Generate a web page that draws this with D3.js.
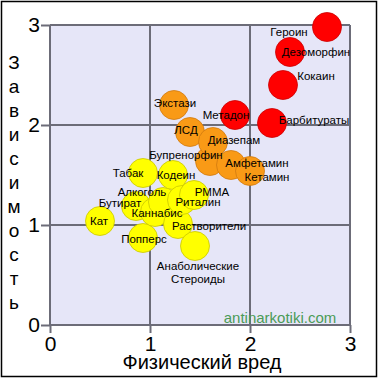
<!DOCTYPE html>
<html>
<head>
<meta charset="utf-8">
<script src="https://cdn.jsdelivr.net/npm/d3@7"></script>
<style>
  body { margin: 0; background: #fff; }
  svg { display: block; font-family: "Liberation Sans", Arial, sans-serif; }
</style>
</head>
<body>
<div id="chart"></div>
<script>
// data
const names = ["Кат", "Попперс", "Бутират", "Табак", "Каннабис", "Алкоголь", "Кодеин",
  "Растворители", "Риталин", "РММА", "Анаболические Стероиды",
  "Экстази", "ЛСД", "Бупренорфин", "Диазепам", "Амфетамин", "Кетамин",
  "Метадон", "Барбитураты", "Кокаин", "Дезоморфин", "Героин"];
const harm = [0.50, 0.93, 0.86, 0.93, 1.05, 1.13, 1.23,
  1.28, 1.32, 1.44, 1.45,
  1.24, 1.40, 1.60, 1.63, 1.81, 2.00,
  1.85, 2.22, 2.33, 2.40, 2.77];
const dependence = [1.04, 0.87, 1.19, 1.52, 1.13, 1.23, 1.50,
  1.01, 1.25, 1.30, 0.79,
  2.20, 1.93, 1.64, 1.83, 1.60, 1.54,
  2.10, 2.02, 2.40, 2.73, 2.98];
const group = ["low", "low", "low", "low", "low", "low", "low",
  "low", "low", "low", "low",
  "mid", "mid", "mid", "mid", "mid", "mid",
  "high", "high", "high", "high", "high"];
const ticks = [0, 1, 2, 3];

// label placement relative to circle centre (px)
const labelOffset = {
  "Кат": [-1, 0], "Попперс": [1, 1], "Бутират": [-16, -3], "Табак": [-15, 0],
  "Каннабис": [2, 1], "Алкоголь": [-21, -10], "Кодеин": [3, 0],
  "Растворители": [31, 2], "Риталин": [16, 2], "РММА": [18, -3],
  "Анаболические Стероиды": [3, 20],
  "Экстази": [1, -2], "ЛСД": [-4, -2], "Бупренорфин": [-24, -6], "Диазепам": [21, -2],
  "Амфетамин": [26, -2], "Кетамин": [17, 6], "Метадон": [-9, 0],
  "Барбитураты": [42, -3], "Кокаин": [33, -9], "Дезоморфин": [26, 0], "Героин": [-38, 5]
};

const fill = { low: "#ffff00", mid: "#f99a16", high: "#ff0000" };
const edge = { low: "#c9c700", mid: "#d07a10", high: "#cc0000" };

const width = 380, height = 380;
const svg = d3.select("#chart").append("svg")
  .attr("width", width).attr("height", height);

const x = d3.scaleLinear().domain([0, 3]).range([50, 350]);
const y = d3.scaleLinear().domain([0, 3]).range([325, 25]);

// outer frame
svg.append("rect")
  .attr("x", 1.5).attr("y", 1.5).attr("width", 375).attr("height", 375)
  .attr("fill", "none").attr("stroke", "#000").attr("stroke-width", 1.5);

// plot area
svg.append("rect")
  .attr("x", x(0)).attr("y", y(3))
  .attr("width", x(3) - x(0)).attr("height", y(0) - y(3))
  .attr("fill", "#e6e6f8");

const gridColor = "#6c6c78";

const xAxis = svg.append("g")
  .attr("transform", `translate(0,${y(0)})`)
  .call(d3.axisBottom(x).tickValues(ticks).tickFormat(d3.format("d"))
    .tickSize(8).tickPadding(3));
const yAxis = svg.append("g")
  .attr("transform", `translate(${x(0)},0)`)
  .call(d3.axisLeft(y).tickValues(ticks).tickFormat(d3.format("d"))
    .tickSize(9).tickPadding(1));

[xAxis, yAxis].forEach(function (g) {
  g.select(".domain").remove();
  g.selectAll("line").attr("stroke", gridColor).attr("stroke-width", 2);
  g.selectAll("text").attr("fill", "#000").style("font-size", "21px")
    .style("font-family", "'Liberation Sans', Arial, sans-serif");
});

// grid lines
svg.append("g").selectAll("line").data(ticks).join("line")
  .attr("x1", d => x(d)).attr("x2", d => x(d))
  .attr("y1", y(3)).attr("y2", y(0))
  .attr("stroke", gridColor).attr("stroke-width", 2);
svg.append("g").selectAll("line").data(ticks).join("line")
  .attr("x1", x(0)).attr("x2", x(3))
  .attr("y1", d => y(d)).attr("y2", d => y(d))
  .attr("stroke", gridColor).attr("stroke-width", 2);

// watermark
svg.append("text")
  .attr("x", 280).attr("y", 318).attr("dy", "0.35em")
  .attr("text-anchor", "middle")
  .attr("fill", "#4b9b57").style("font-size", "15px")
  .text("antinarkotiki.com");

const data = names.map(function (n, i) {
  return { name: n, harm: harm[i], dep: dependence[i], group: group[i] };
});

svg.append("g").selectAll("circle").data(data).join("circle")
  .attr("cx", d => x(d.harm))
  .attr("cy", d => y(d.dep))
  .attr("r", 14.5)
  .attr("fill", d => fill[d.group])
  .attr("stroke", d => edge[d.group])
  .attr("stroke-width", 0.8);

const labels = svg.append("g").selectAll("text").data(data).join("text")
  .attr("x", d => x(d.harm) + labelOffset[d.name][0])
  .attr("y", d => y(d.dep) + labelOffset[d.name][1])
  .attr("text-anchor", "middle")
  .style("font-size", "11.5px")
  .attr("fill", "#000");

labels.each(function (d) {
  const parts = d.name.split(" ");
  const t = d3.select(this);
  parts.forEach(function (p, i) {
    t.append("tspan")
      .attr("x", x(d.harm) + labelOffset[d.name][0])
      .attr("dy", i === 0 ? "0.35em" : "1.15em")
      .text(p);
  });
});

// axis titles
svg.append("text")
  .attr("x", 202).attr("y", 362).attr("dy", "0.35em")
  .attr("text-anchor", "middle")
  .style("font-size", "20px")
  .text("Физический вред");

const yTitle = "Зависимость".split("");
svg.append("g").selectAll("text").data(yTitle).join("text")
  .attr("x", 14)
  .attr("y", (d, i) => 62 + i * 24)
  .attr("dy", "0.35em")
  .attr("text-anchor", "middle")
  .style("font-size", "19px")
  .text(d => d);
</script>
</body>
</html>
